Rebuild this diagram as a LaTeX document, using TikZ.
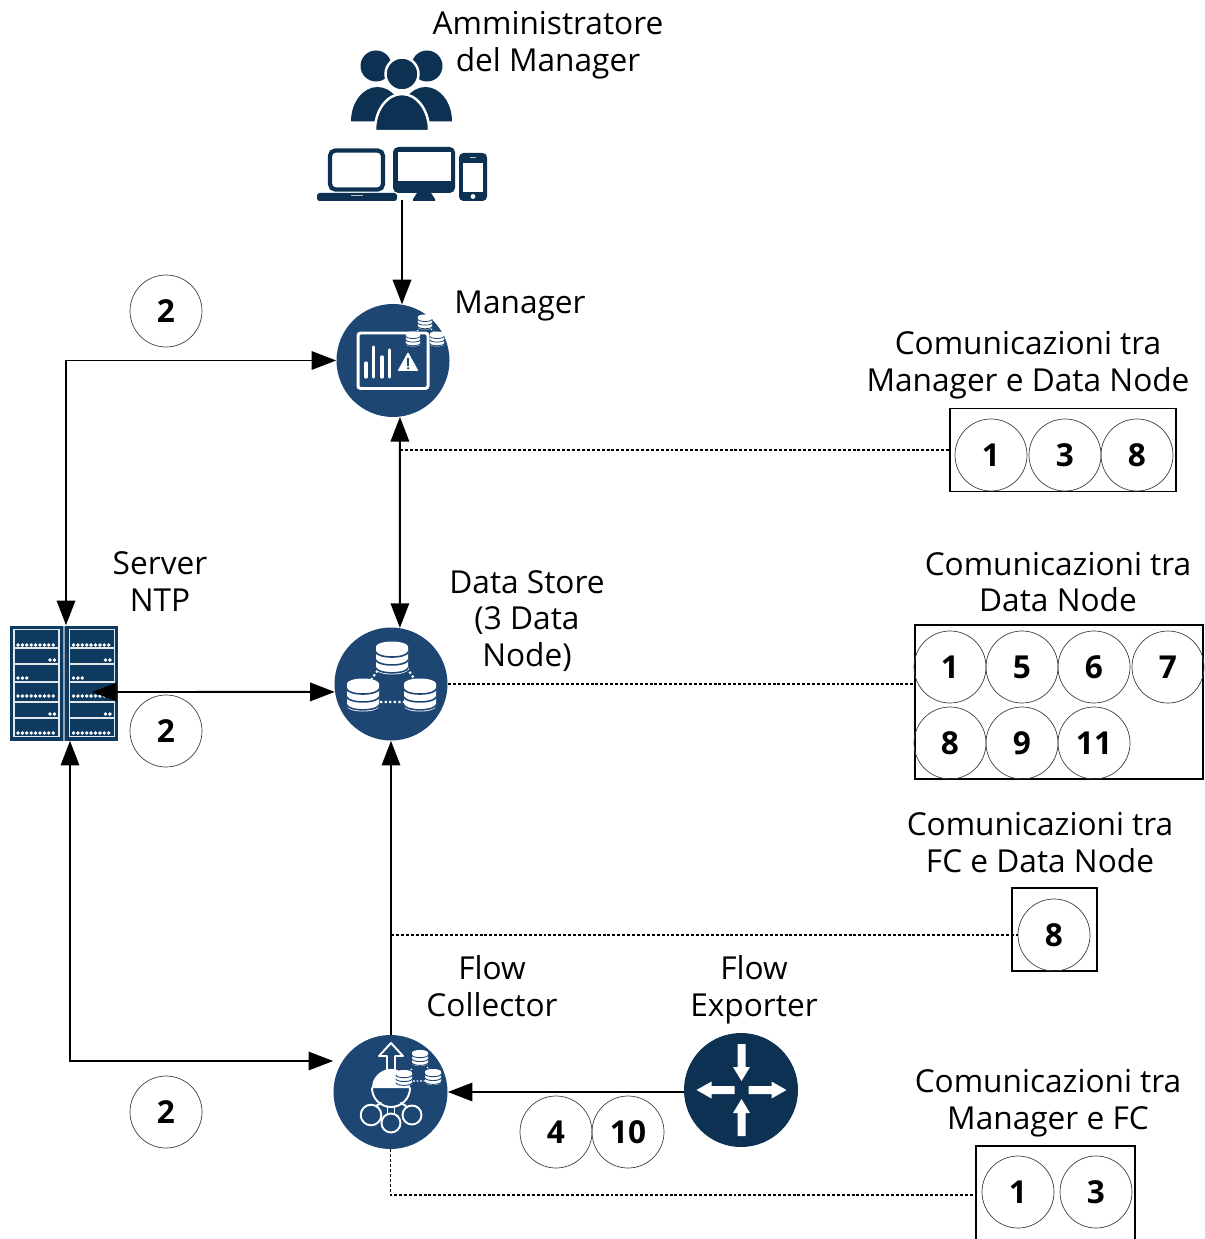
\documentclass[tikz,border=0pt]{standalone}
\usepackage{fontspec}
\setmainfont{Open Sans}
\usetikzlibrary{arrows.meta,calc}
\definecolor{navy}{HTML}{0D3152}
\definecolor{midblue}{HTML}{1D4673}
\definecolor{rackblue}{HTML}{0F3A5F}
\def\px{0.02cm}
\newcommand\dbcyl[5]{% cx cy rx h bg
  \fill[white] (#1-#3,#2-#4/2+#3*0.32) arc[start angle=180,end angle=0,x radius=#3,y radius=-#3*0.32]
    -- (#1+#3,#2+#4/2-#3*0.32) arc[start angle=0,end angle=-180,x radius=#3,y radius=-#3*0.32] -- cycle;
  \foreach \k in {0.16,0.40,0.64}{
    \draw[#5,line width=#3*0.05pt+0.1pt] (#1-#3,#2-#4/2+#3*0.32+#4*\k) arc[start angle=180,end angle=360,x radius=#3,y radius=-#3*0.32];}
}
\tikzset{
  x=\px,y=-\px,
  lab/.style={font=\fontsize{18}{21}\selectfont,align=center,inner sep=0pt,text=black},
  num/.style={circle,draw=black!75,line width=0.4pt,minimum size=72*\px,inner sep=0pt,font=\fontsize{18}{21}\selectfont\bfseries},
  box/.style={draw=black,line width=0.8pt,inner sep=0pt},
  conn/.style={black,line width=1.1pt},
  one/.style={conn,-{Triangle[length=14pt,width=10.5pt]}},
  both/.style={conn,{Triangle[length=14pt,width=10.5pt]}-{Triangle[length=14pt,width=10.5pt]}},
  dots/.style={black,line width=1pt,dash pattern=on 1.7pt off 1.1pt},
  bigdisc/.style={circle,fill=midblue,minimum size=113*\px,inner sep=0pt},
  darkdisc/.style={circle,fill=navy,minimum size=114*\px,inner sep=0pt},
  whiteline/.style={draw=white,line width=1.1pt,line cap=round,line join=round},
}
\begin{document}
\begin{tikzpicture}
\useasboundingbox (0,0) rectangle (1204,1239);
\fill[white] (0,0) rectangle (1204,1239);

% --- main nodes
\node[bigdisc] (mgr) at (393,360.5) {};
\node[bigdisc] (ds) at (391,684) {};
\node[bigdisc,minimum size=114*\px] (fc) at (390.5,1092) {};
\node[darkdisc] (fe) at (741,1090) {};
\node[fill=rackblue,minimum width=108*\px,minimum height=115*\px,inner sep=0pt] (ntp) at (64,683) {};

% --- people
\fill[navy] (376,66) circle (15.5) (427,66) circle (15.5);
\fill[navy] (351,121.5) arc[start angle=180,end angle=0,x radius=26.5,y radius=-34.5] -- cycle;
\fill[navy] (399,121.5) arc[start angle=180,end angle=0,x radius=26.5,y radius=-34.5] -- cycle;
\fill[navy,draw=white,line width=1.4pt] (402,74) circle (16.5);
\fill[navy,draw=white,line width=1.4pt] (375,131) -- (375,130) arc[start angle=180,end angle=0,x radius=27,y radius=-36] -- (429,131) -- cycle;
\fill[white] (370,131) rectangle (434,135);

% --- devices
\draw[navy,line width=2.4pt,rounded corners=3pt,fill=white] (330,150.5) rectangle (383,189.5);
\fill[navy,rounded corners=1.5pt] (317,193) rectangle (397,201);
\fill[white!70!navy] (351,195.5) rectangle (363,196.5);
\fill[navy,rounded corners=3pt] (393,147) rectangle (455,193);
\fill[white] (397.5,152) rectangle (451,181);
\fill[navy] (417,193) -- (431,193) -- (435,199) -- (435,201) -- (413,201) -- (413,199) -- cycle;
\fill[navy,rounded corners=2.5pt] (459,153) rectangle (487,201);
\fill[white] (463,163.5) rectangle (483,192);
\fill[white] (473,196.5) circle (2.4);
\fill[white!70!navy] (470,157.5) rectangle (476,158.5);

% --- manager icon
\draw[white,line width=1.7pt,rounded corners=1.5pt] (358,333) rectangle (428,388.5);
\foreach \bx/\by in {366/363,373.5/347,382/357,389.5/350}
  \draw[white,line width=1.9pt,line cap=round] (\bx,377) -- (\bx,\by);
\fill[white,rounded corners=0.5pt] (397.5,371) -- (418.5,371) -- (408,352) -- cycle;
\fill[midblue] (407,358.5) rectangle (409.2,366);
\fill[midblue] (408.1,368.2) circle (1.3);
\dbcyl{425}{322}{7.2}{15}{midblue}
\dbcyl{413}{339}{7.2}{15}{midblue}
\dbcyl{437}{339}{7.2}{15}{midblue}
\draw[white,line width=0.5pt,dash pattern=on 1pt off 1pt] (417,331)--(420,329) (431,329)--(434,332);

% --- data store icon
\draw[white,line width=1.2pt,dash pattern=on 1.3pt off 1.3pt] (371,680)--(378,670) (407,668)--(415,680) (380,702)--(404,702);
\dbcyl{392}{658}{16}{33}{midblue}
\dbcyl{363}{695}{16}{33}{midblue}
\dbcyl{420}{695}{16}{33}{midblue}

% --- flow collector icon
\fill[white] (372,1088) arc[start angle=180,end angle=0,x radius=19,y radius=-19] -- cycle;
\draw[whiteline] (372,1088) arc[start angle=180,end angle=360,x radius=19,y radius=-19];
\draw[whiteline] (387,1070) -- (387,1056) -- (379,1056) -- (391,1043) -- (403,1056) -- (395,1056) -- (395,1070);
\draw[whiteline] (371,1115) circle (10.3) (391,1123) circle (9.5) (412,1115) circle (9.5);
\draw[whiteline] (387.5,1106.5)--(387.5,1114) (394.5,1106.5)--(394.5,1114);
\draw[whiteline] (376,1106)--(381,1103) (406,1106)--(401,1103);
\dbcyl{420}{1058}{8}{16}{midblue}
\dbcyl{404}{1078}{8}{16}{midblue}
\dbcyl{433}{1077}{8}{16}{midblue}
\draw[white,line width=0.6pt,dash pattern=on 1pt off 1pt] (412,1069)--(408,1072) (427,1067)--(430,1070) (413,1081)--(425,1081);

% --- flow exporter icon
\begin{scope}[shift={(741.5,1090)}]
  \foreach \r in {0,180}{
    \begin{scope}[rotate=\r]
      \fill[white] (4,-46) -- (4,-23) -- (8.5,-23) -- (0,-9) -- (-8.5,-23) -- (-4,-23) -- (-4,-46) -- cycle;
    \end{scope}}
  \foreach \r in {1,-1}{
    \fill[white] (\r*7,-4) -- (\r*30,-4) -- (\r*30,-8.5) -- (\r*45,0) -- (\r*30,8.5) -- (\r*30,4) -- (\r*7,4) -- cycle;}
\end{scope}

% --- rack
\fill[white!55!rackblue] (63,626) rectangle (65,741);
\foreach \ox in {14,69.5}{
  \draw[white!88!rackblue,line width=0.9pt] (\ox,629.5) rectangle (\ox+45,736.5);
  \foreach \ry in {648,664,682,702,718}
    \draw[white!88!rackblue,line width=0.9pt] (\ox,\ry) -- (\ox+45,\ry);
  \foreach \ry in {645,696,733}
    \foreach \d in {0,...,8}
      \fill[white] (\ox+4+\d*4.4,\ry) circle (1.9);
  \foreach \ry in {660,714}
    \foreach \d in {0,1}
      \fill[white] (\ox+36+\d*4.4,\ry) circle (1.9);
  \foreach \d in {0,1,2}
    \fill[white] (\ox+4+\d*4.4,678) circle (1.9);
}

% --- boxes
\node[box,minimum width=226*\px,minimum height=83*\px] (b1) at (1063,450) {};
\node[box,minimum width=288*\px,minimum height=154*\px] (b2) at (1059,702) {};
\node[box,minimum width=85*\px,minimum height=83*\px] (b3) at (1054.5,929.5) {};
\draw[black,line width=0.8pt] (976,1239) -- (976,1146) -- (1135,1146) -- (1135,1239);
\coordinate (b4w) at (976,1195);

% --- numbers
\node[num] (a1) at (991,455) {1};
\node[num] (a3) at (1065,455) {3};
\node[num] (a8) at (1137,455) {8};
\node[num] (c1) at (950,667) {1};
\node[num] (c5) at (1022,667) {5};
\node[num] (c6) at (1094,667) {6};
\node[num] (c7) at (1168,667) {7};
\node[num] (c8) at (950,743) {8};
\node[num] (c9) at (1022,743) {9};
\node[num] (c11) at (1094,743) {11};
\node[num] (d8) at (1054,935) {8};
\node[num] (e1) at (1018,1192) {1};
\node[num] (e3) at (1096,1192) {3};
\node[num] (f4) at (556,1132) {4};
\node[num] (f10) at (628,1132) {10};
\node[num] (g1) at (166,311) {2};
\node[num] (g2) at (166,731) {2};
\node[num] (g3) at (166,1112) {2};

% --- labels
\node[lab] (ladm) at (548,45.5) {Amministratore\\del Manager};
\node[lab] (lmgr) at (520,306) {Manager};
\node[lab] (lb1) at (1028,365) {Comunicazioni tra\\Manager e Data Node};
\node[lab] (lb2) at (1058,582) {Comunicazioni tra\\Data Node};
\node[lab] (lds) at (527,621) {Data Store\\(3 Data\\Node)};
\node[lab] (lntp) at (160,581.5) {Server\\NTP};
\node[lab] (lb3) at (1040,842.5) {Comunicazioni tra\\FC e Data Node};
\node[lab] (lfc) at (492,986) {Flow\\Collector};
\node[lab] (lfe) at (754,990) {Flow\\Exporter};
\node[lab] (lb4) at (1048,1103) {Comunicazioni tra\\Manager e FC};

% --- connectors
\coordinate (dev) at (402,200);
\coordinate (ntpin) at (92,692);
\draw[one] (dev) -- (dev |- mgr.81);
\draw[both] (mgr.west) -| ([xshift=2*\px]ntp.north);
\draw[both] (mgr.-83) -- (ds.81);
\draw[dots] ([yshift=-0.3*\px]mgr.-83 |- b1.west) -- ([yshift=-0.3*\px]b1.west);
\draw[dots] (ds.east) -- (ds.east -| b2.west);
\draw[both] (ntpin) -- (ds.188);
\draw[both] ([xshift=6*\px]ntp.south) |- ([yshift=31*\px]fc.west);
\draw[one] (ds.south |- fc.north) -- (ds.south);
\draw[dots] (ds.south |- d8.west) -- (d8.west);
\draw[one] ([yshift=-2*\px]fe.west) -- ([yshift=-2*\px]fe.west -| fc.east);
\draw[dots] (fc.south) |- (b4w);
\end{tikzpicture}
\end{document}
